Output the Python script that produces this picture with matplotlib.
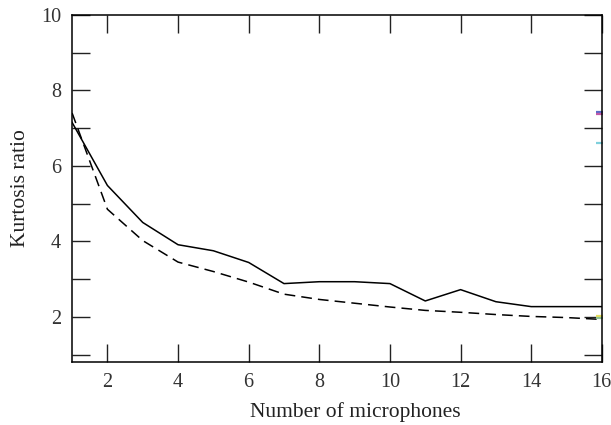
import matplotlib
matplotlib.use('Agg')
import matplotlib.pyplot as plt
from matplotlib.ticker import MultipleLocator

mics = [1, 2, 3, 4, 5, 6, 7, 8, 9, 10, 11, 12, 13, 14, 15, 16]
solid = [7.15, 5.48, 4.50, 3.91, 3.75, 3.44, 2.88, 2.93, 2.93, 2.88, 2.42, 2.72, 2.40, 2.27, 2.27, 2.27]
dashed = [7.40, 4.85, 4.02, 3.45, 3.20, 2.92, 2.60, 2.46, 2.36, 2.26, 2.17, 2.12, 2.06, 2.01, 1.98, 1.93]

# stray stubs of other series visible at the right edge
stub_x = [16, 16, 16, 16, 16]
stub_y = [7.43, 7.37, 6.60, 2.02, 1.97]
stub_colors = ['#5a6bc8', '#c05aa8', '#7fd0dc', '#e8e060', '#8fc090']

plt.rcParams['font.family'] = ['Liberation Serif', 'DejaVu Serif']
plt.rcParams['font.size'] = 14

fig = plt.figure(figsize=(6.11, 4.25), dpi=100)
ax = fig.add_axes([0.118, 0.148, 0.867, 0.817])

ax.plot(mics, solid, color='black', lw=1.1)
ax.plot(mics, dashed, color='black', lw=1.1, dashes=(7, 4))
for x, y, c in zip(stub_x, stub_y, stub_colors):
    ax.plot([x], [y], marker='_', markersize=9, mew=1.6, color=c, clip_on=True)

ax.set_xlim(1, 16)
ax.set_ylim(0.8, 10)
ax.xaxis.set_major_locator(MultipleLocator(2))
ax.yaxis.set_major_locator(MultipleLocator(2))
ax.yaxis.set_minor_locator(MultipleLocator(1))
ax.tick_params(which='both', direction='in', length=13, width=1,
               top=True, right=True, color='#222222')
ax.tick_params(axis='both', which='major', pad=8, labelsize=14.5, labelcolor='#333333')
for s in ax.spines.values():
    s.set_linewidth(1.1)

ax.set_xlabel('Number of microphones', fontsize=15.5, color='#222222', labelpad=7, x=0.534)
ax.set_ylabel('Kurtosis ratio', fontsize=15.5, color='#222222', labelpad=8)

fig.savefig('out.png', dpi=100)
